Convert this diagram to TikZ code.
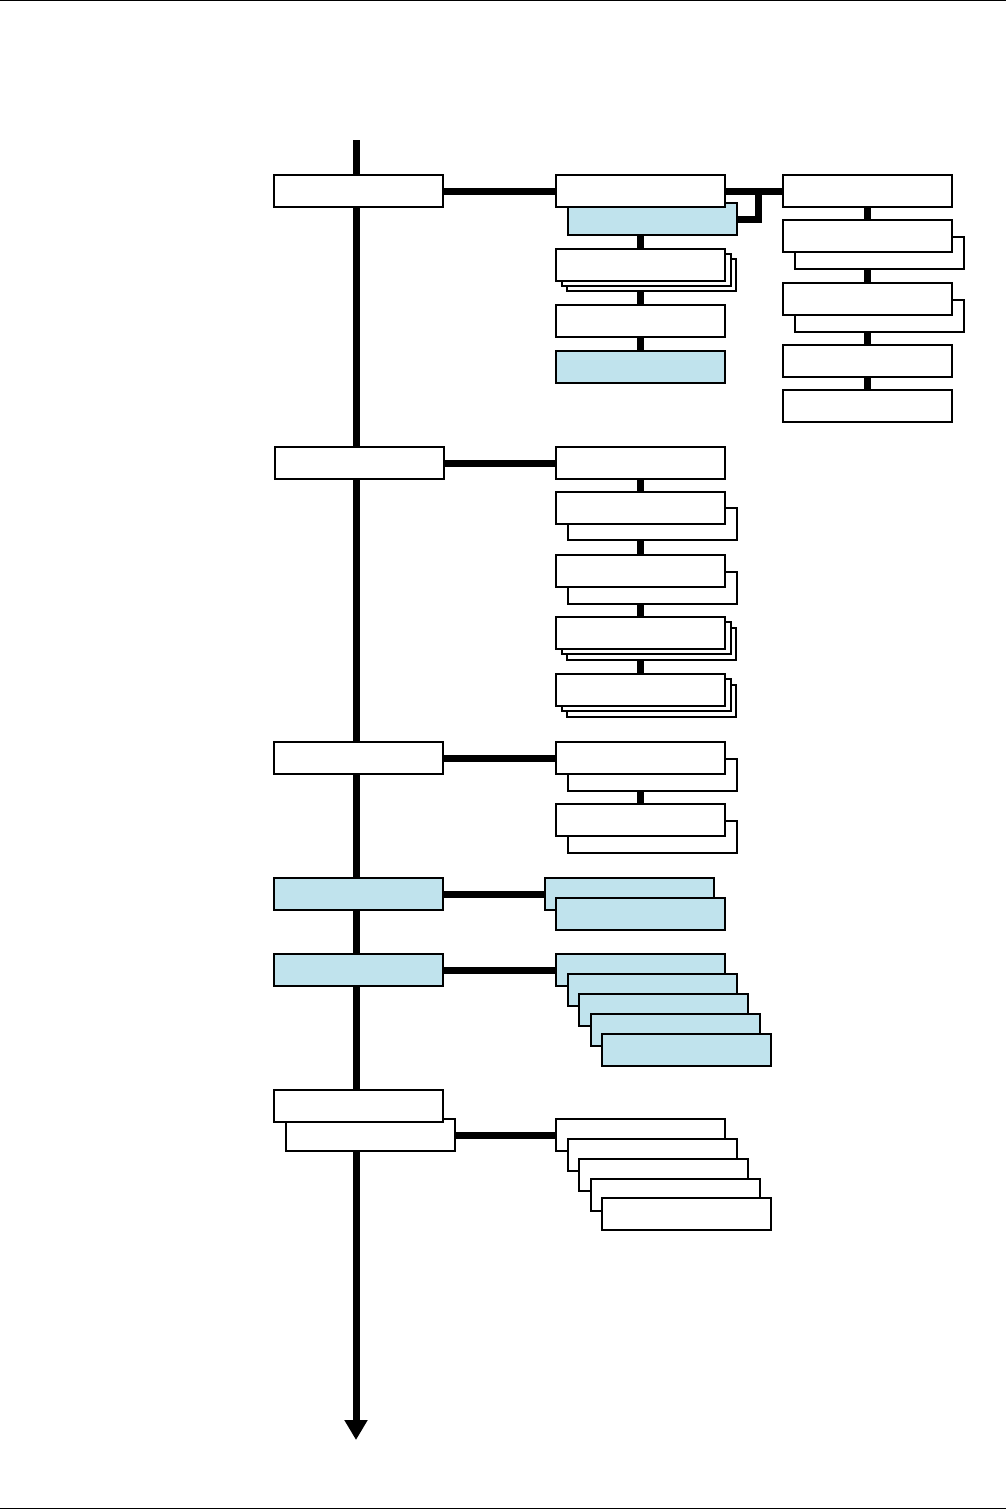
\documentclass[tikz,border=0pt]{standalone}
\usetikzlibrary{arrows.meta}
\definecolor{lblue}{RGB}{192,227,237}
\pgfdeclarelayer{paper}
\pgfdeclarelayer{bg}
\pgfsetlayers{paper,bg,main}
\tikzset{
  box/.style={draw, line width=2pt, fill=white, minimum width=169pt, minimum height=32pt,
              inner sep=0pt, outer sep=0pt, anchor=north west, xshift=1pt, yshift=-1pt},
  bbox/.style={box, fill=lblue},
  thinbox/.style={box, line width=1.2pt},
  conn/.style={line width=7pt},
  rule/.style={line width=1pt}
}
\begin{document}
\begin{tikzpicture}[x=1pt,y=-1pt]
\useasboundingbox (0,0) rectangle (1006,1509);
\begin{pgfonlayer}{paper}
\fill[white] (0,0) rectangle (1006,1509);
\end{pgfonlayer}
\draw[rule] (0,1) -- (1006,1);
\draw[rule] (0,1508) -- (1006,1508);

% left column
\node[box]  (L1) at (273,174) {};
\node[box]  (L2) at (274,446) {};
\node[box]  (L3) at (273,741) {};
\node[bbox] (L4) at (273,877) {};
\node[bbox] (L5) at (273,953) {};
\node[box]  (L6b) at (285,1118) {};
\node[box]  (L6) at (273,1089) {};

% group A
\node[bbox] (A1b) at (567,202) {};
\node[box]  (A1) at (555,174) {};
\node[thinbox] (A2c) at (566,258) {};
\node[thinbox] (A2b) at (561,253) {};
\node[box]  (A2) at (555,248) {};
\node[box]  (A3) at (555,304) {};
\node[bbox] (A4) at (555,350) {};

% group R
\node[box] (R1) at (782,174) {};
\node[box] (R2b) at (794,236) {};
\node[box] (R2) at (782,219) {};
\node[box] (R3b) at (794,299) {};
\node[box] (R3) at (782,282) {};
\node[box] (R4) at (782,344) {};
\node[box] (R5) at (782,389) {};

% group B
\node[box] (B1) at (555,446) {};
\node[box] (B2b) at (567,507) {};
\node[box] (B2) at (555,491) {};
\node[box] (B3b) at (567,571) {};
\node[box] (B3) at (555,554) {};
\node[thinbox] (B4c) at (566,627) {};
\node[thinbox] (B4b) at (561,621) {};
\node[box] (B4) at (555,616) {};
\node[thinbox] (B5c) at (566,684) {};
\node[thinbox] (B5b) at (561,678) {};
\node[box] (B5) at (555,673) {};

% group C
\node[box] (C1b) at (567,758) {};
\node[box] (C1) at (555,741) {};
\node[box] (C2b) at (567,820) {};
\node[box] (C2) at (555,803) {};

% group D
\node[bbox] (D1) at (544,877) {};
\node[bbox] (D2) at (555,897) {};

% group E
\node[bbox] (E1) at (555,953) {};
\node[bbox] (E2) at (567,973) {};
\node[bbox] (E3) at (578,993) {};
\node[bbox] (E4) at (590,1013) {};
\node[bbox] (E5) at (601,1033) {};

% group F
\node[box] (F1) at (555,1118) {};
\node[box] (F2) at (567,1138) {};
\node[box] (F3) at (578,1158) {};
\node[box] (F4) at (590,1178) {};
\node[box] (F5) at (601,1197) {};

\coordinate (top) at (356,140);
\coordinate (bot) at (356,1440);

\begin{pgfonlayer}{bg}
\draw[line width=7pt, -{Triangle[width=22pt,length=20pt]}] (top) -- (bot);
\draw[conn] (L1.east) -- (A1.west);
\draw[conn] (A1.east) -- (R1.west);
\draw[conn] (A1b.east) -| ([xshift=21pt]A1b.east |- A1.east);
\draw[conn] (A1.south) -- (A2.north);
\draw[conn] (A2.south) -- (A3.north);
\draw[conn] (A3.south) -- (A4.north);
\draw[conn] (R1.south) -- (R2.north);
\draw[conn] (R2.south) -- (R3.north);
\draw[conn] (R3.south) -- (R4.north);
\draw[conn] (R4.south) -- (R5.north);
\draw[conn] (L2.east) -- (B1.west);
\draw[conn] (B1.south) -- (B2.north);
\draw[conn] (B2.south) -- (B3.north);
\draw[conn] (B3.south) -- (B4.north);
\draw[conn] (B4.south) -- (B5.north);
\draw[conn] (L3.east) -- (C1.west);
\draw[conn] (C1.south) -- (C2.north);
\draw[conn] (L4.east) -- (D1.west);
\draw[conn] (L5.east) -- (E1.west);
\draw[conn] (L6b.east) -- (F1.west);
\end{pgfonlayer}
\end{tikzpicture}
\end{document}
